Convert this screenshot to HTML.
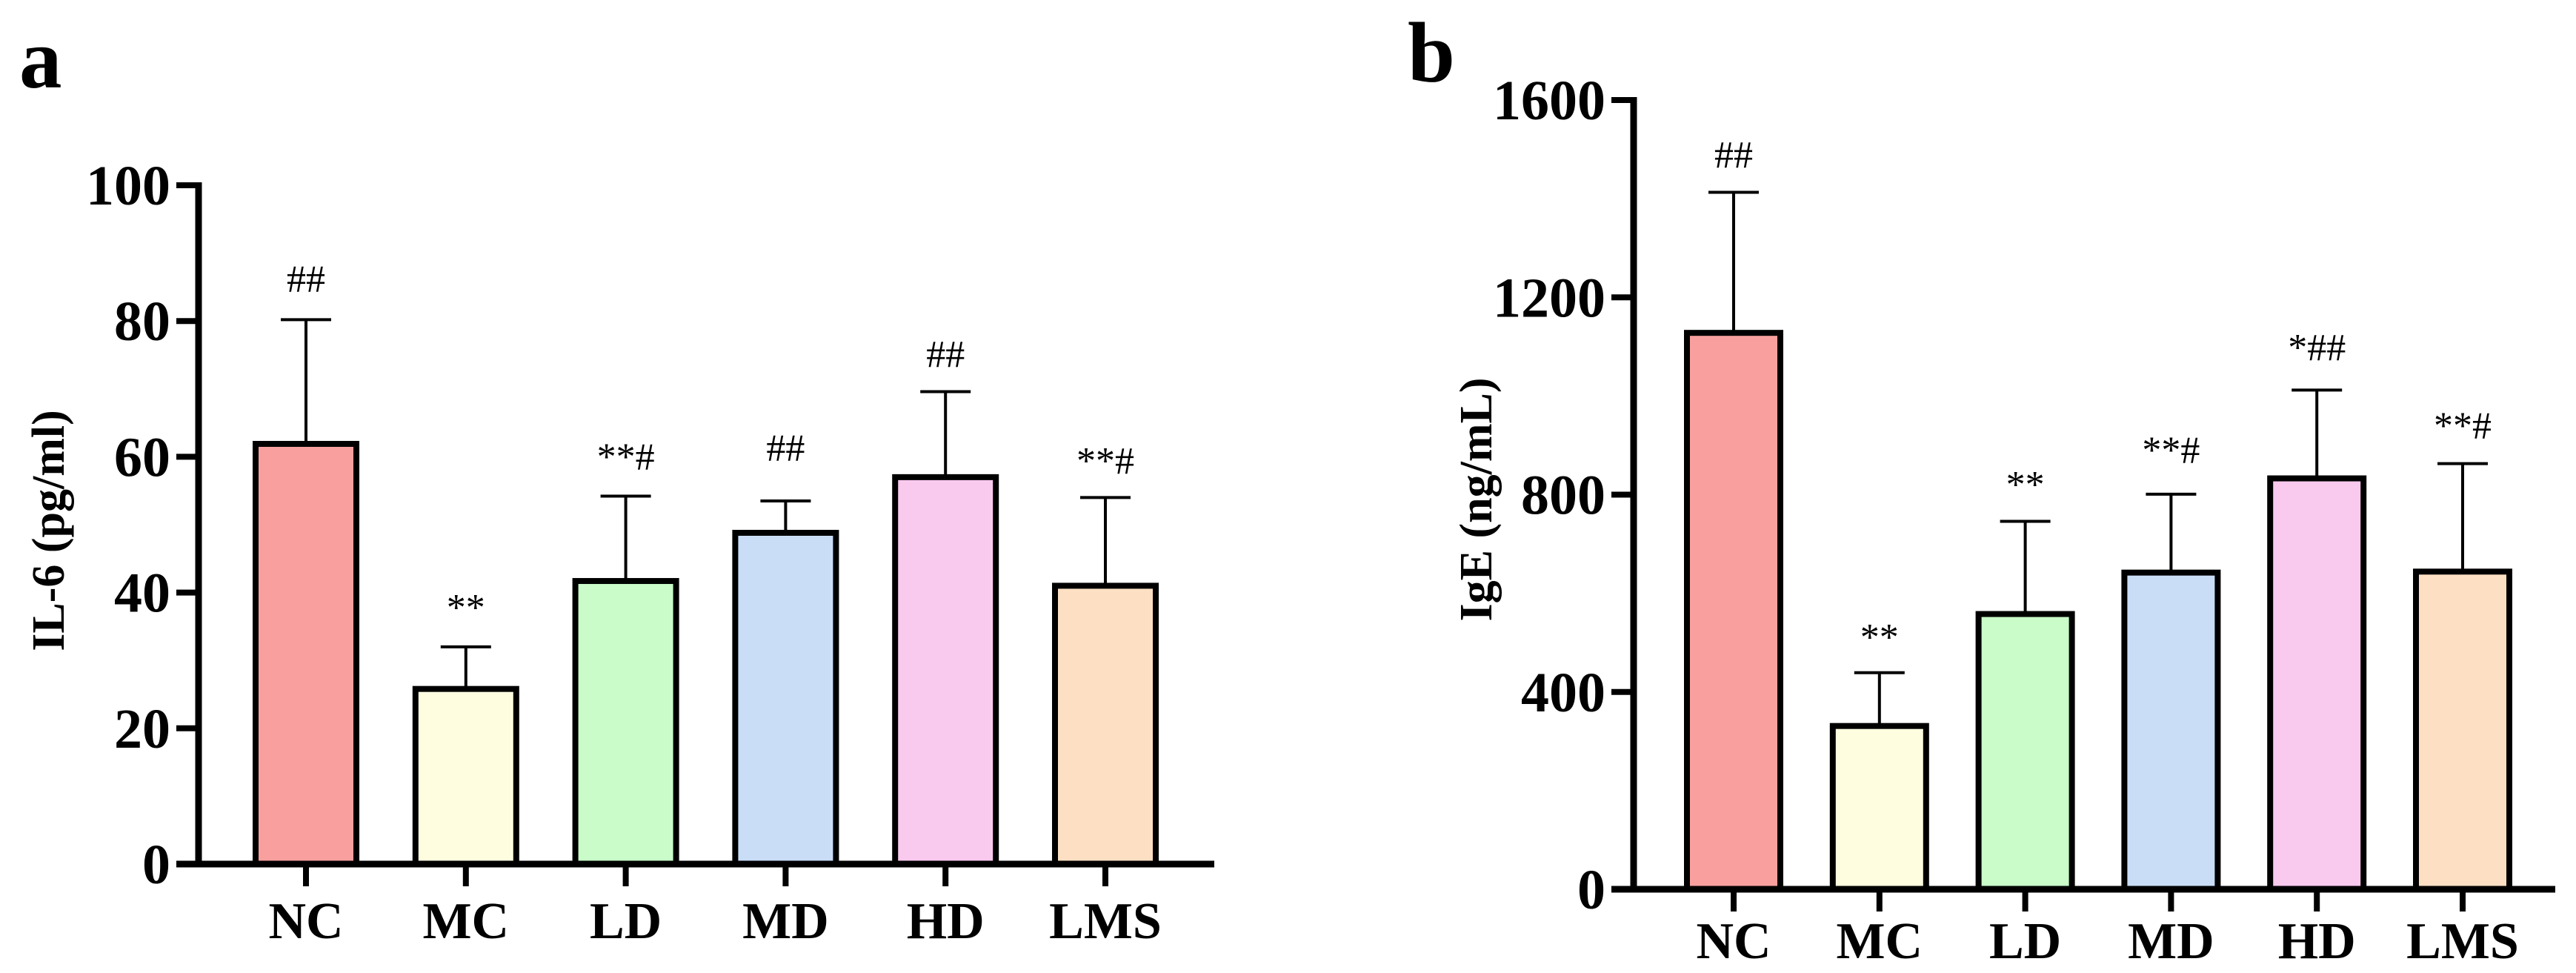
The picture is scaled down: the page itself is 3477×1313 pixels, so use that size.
<!DOCTYPE html>
<html><head><meta charset="utf-8"><style>
html,body{margin:0;padding:0;background:#fff;}
svg{display:block;font-family:"Liberation Serif",serif;}
</style></head><body>
<svg id="fig" width="3477" height="1313" viewBox="0 0 3477 1313"></svg>
<script>
const categories = ["NC","MC","LD","MD","HD","LMS"];
const colors = ["#f9a09f","#fefde0","#c9fcc9","#c9ddf7","#f9c9ee","#fde0c4"];
const il6Values = [61.9,25.8,41.7,48.8,57.0,41.0];
const il6Errors = [18.3,6.2,12.5,4.7,12.6,13.0];
const il6Marks = ["##","**","**#","##","##","**#"];
const il6Ticks = [0,20,40,60,80,100];
const igeValues = [1128,331,558,642,833,644];
const igeErrors = [285,108,188,159,179,219];
const igeMarks = ["##","**","**","**#","*##","**#"];
const igeTicks = [0,400,800,1200,1600];

const NS="http://www.w3.org/2000/svg";
const svg=document.getElementById('fig');
function mk(tag,attrs,parent){const e=document.createElementNS(NS,tag);for(const k in attrs)e.setAttribute(k,attrs[k]);(parent||svg).appendChild(e);return e;}

function panel(cfg){
  const g=mk('g',{});
  
  
  const y=v=>cfg.y0-(v-0)/cfg.max*(cfg.y0-cfg.yTop);
  const x=i=>cfg.x0+i*cfg.step;
  // bars
  cfg.values.forEach((v,i)=>{
    const top=y(v+cfg.errors[i]);
    const eb=mk('g',{},g);
    
    
    mk('line',{x1:x(i),x2:x(i),y1:y(v),y2:top,stroke:'#000','stroke-width':4},eb);
    mk('line',{x1:x(i)-cfg.cap/2,x2:x(i)+cfg.cap/2,y1:top,y2:top,stroke:'#000','stroke-width':4},eb);
    const r=mk('rect',{x:x(i)-cfg.bw/2,y:y(v),width:cfg.bw,height:cfg.y0-y(v),fill:colors[i],stroke:'#000','stroke-width':8},g);
    
    
    const t=mk('text',{x:x(i),y:y(cfg.markPos[i])+17,'text-anchor':'middle','font-size':52,fill:'#000'},g);
    t.textContent=cfg.marks[i];
    
    
    const tk=mk('line',{x1:x(i),x2:x(i),y1:cfg.y0,y2:cfg.y0+30,stroke:'#000','stroke-width':8},g);
    
    
    const lb=mk('text',{x:x(i),y:cfg.labelY,'text-anchor':'middle','font-size':70,'font-weight':'bold',fill:'#000'},g);
    lb.textContent=categories[i];
    
    
  });
  // axes
  const ya=mk('line',{x1:cfg.ax,x2:cfg.ax,y1:cfg.yTop-4,y2:cfg.y0+4,stroke:'#000','stroke-width':9},g);
  
  
  const xa=mk('line',{x1:cfg.ax-30,x2:cfg.xEnd,y1:cfg.y0,y2:cfg.y0,stroke:'#000','stroke-width':9},g);
  
  
  cfg.ticks.forEach(tv=>{
    const l=mk('line',{x1:cfg.ax-30,x2:cfg.ax,y1:y(tv),y2:y(tv),stroke:'#000','stroke-width':8},g);
    
    
    const t=mk('text',{x:cfg.ax-38,y:y(tv)+26,'text-anchor':'end','font-size':76,'font-weight':'bold',fill:'#000'},g);
    t.textContent=tv;
    
    
  });
  const yt=mk('text',{x:0,y:0,'text-anchor':'middle','font-size':62,'font-weight':'bold',fill:'#000',transform:`translate(${cfg.titleX},${cfg.titleY}) rotate(-90)`},g);
  yt.textContent=cfg.title;
  
  
  const pl=mk('text',{x:cfg.letterX,y:cfg.letterY,'font-size':115,'font-weight':'bold',fill:'#000'},g);
  pl.textContent=cfg.letter;
  
  
}

panel({name:'il6-chart',values:il6Values,errors:il6Errors,marks:il6Marks,ticks:il6Ticks,max:100,
  markPos:[86.2,37.8,60,61.3,75.1,59.4],
  y0:1166,yTop:250,x0:413,step:215.8,bw:136,cap:68,ax:268,xEnd:1639,labelY:1266,
  title:'IL-6 (pg/ml)',titleX:86,titleY:716,letter:'a',letterX:26,letterY:118});
panel({name:'ige-chart',values:igeValues,errors:igeErrors,marks:igeMarks,ticks:igeTicks,max:1600,
  markPos:[1489,511,820,890,1098,940],
  y0:1200,yTop:135,x0:2340,step:196.8,bw:126,cap:68,ax:2205,xEnd:3449,labelY:1293,
  title:'IgE (ng/mL)',titleX:2013,titleY:674,letter:'b',letterX:1900,letterY:110});
</script>
</body></html>
